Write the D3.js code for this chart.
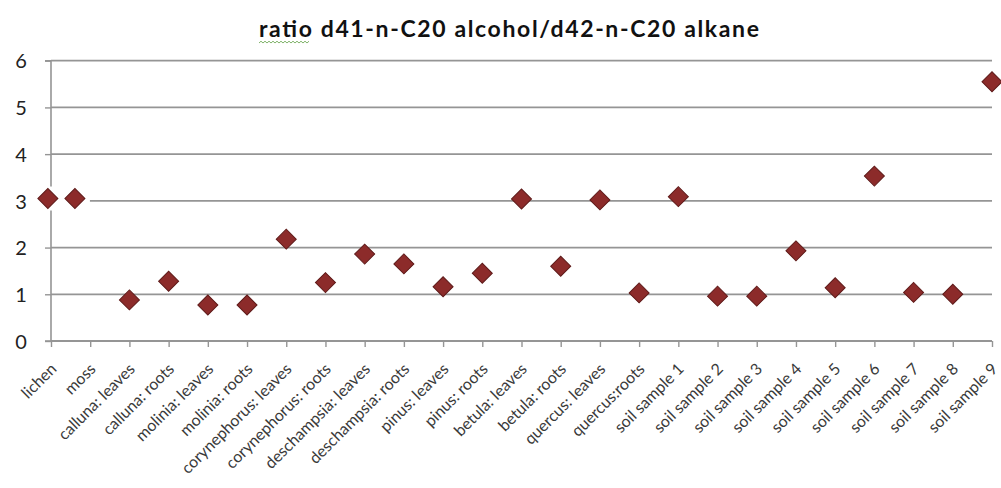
<!DOCTYPE html>
<html><head><meta charset="utf-8">
<script src="https://cdn.jsdelivr.net/npm/d3@7"></script>
<style>
html,body{margin:0;padding:0;background:#fff;}
svg{display:block;}
</style>
</head><body>
<svg id="chart" width="1001" height="488"></svg>
<script>
const titleText = "ratio d41-n-C20 alcohol/d42-n-C20 alkane";
const categories = ["lichen","moss","calluna: leaves","calluna: roots","molinia: leaves","molinia: roots",
  "corynephorus: leaves","corynephorus: roots","deschampsia: leaves","deschampsia: roots","pinus: leaves",
  "pinus: roots","betula: leaves","betula: roots","quercus: leaves","quercus:roots","soil sample 1",
  "soil sample 2","soil sample 3","soil sample 4","soil sample 5","soil sample 6","soil sample 7",
  "soil sample 8","soil sample 9"];
// position of each marker along the category axis (category index units)
const xPositions = [-0.08,0.61,2,3,4,5,6,7,8,9,10,11,12,13,14,15,16,17,18,19,20,21,22,23,24];
const ratios = [3.05,3.05,0.88,1.28,0.77,0.77,2.18,1.25,1.86,1.65,1.16,1.45,3.04,1.60,3.02,1.03,3.09,
  0.96,0.96,1.93,1.14,3.53,1.04,1.00,5.55];
const yTicks = [0,1,2,3,4,5,6];

const svg = d3.select("#chart");
const L = 51, R = 992, T = 60.7, B = 341;
const x = d3.scaleLinear().domain([0, categories.length-1]).range([L, R]);
const y = d3.scaleLinear().domain([0, 6]).range([B, T]);
const font = "Lato, 'Open Sans', sans-serif";

// title
svg.append("text").attr("x", 509).attr("y", 37).attr("text-anchor","middle")
  .attr("font-family", font).attr("font-weight","bold").attr("font-size", 23).attr("fill","#111")
  .attr("textLength", 500).attr("lengthAdjust","spacing")
  .text(titleText);
// spell-check squiggle under "ratio"
(function(){
  let d = "M259,43"; let up = true;
  for (let xx = 261; xx <= 309; xx += 2) { d += "L" + xx + "," + (up ? 41.2 : 43); up = !up; }
  svg.append("path").attr("d", d).attr("fill","none").attr("stroke","#7fb36a").attr("stroke-width",1);
})();

// gridlines
svg.append("g").selectAll("line").data(yTicks.filter(d=>d>0)).join("line")
  .attr("x1", L).attr("x2", R).attr("y1", d=>y(d)).attr("y2", d=>y(d))
  .attr("stroke","#959595").attr("stroke-width",1.8);

// y axis
const ya = svg.append("g").attr("transform", `translate(${L},0)`)
  .call(d3.axisLeft(y).tickValues(yTicks).tickSize(6).tickPadding(18).tickFormat(d3.format("d")));
ya.select(".domain").attr("stroke","#959595").attr("stroke-width",1.6).attr("d", `M-6,${T}H0V${B}H-6`);
ya.selectAll(".tick line").attr("stroke","#959595").attr("stroke-width",1.4);
ya.selectAll(".tick text").attr("font-family", font).attr("font-size", 20).attr("fill","#222")
  .attr("text-anchor","middle").attr("x",-30).attr("dy","0.36em");

// x axis
const xa = svg.append("g").attr("transform", `translate(0,${B})`)
  .call(d3.axisBottom(x).tickValues(d3.range(categories.length)).tickSize(6).tickFormat(i=>categories[i]));
xa.select(".domain").attr("stroke","#959595").attr("stroke-width",1.8).attr("d", `M${L},0H${R}`);
xa.selectAll(".tick line").attr("stroke","#959595").attr("stroke-width",1.4);
xa.selectAll(".tick text").attr("font-family", font).attr("font-size", 16).attr("fill","#3a3a3a")
  .attr("text-anchor","end").attr("dy",null).attr("y",null)
  .attr("transform","translate(6,29) rotate(-45)");

// white patch behind the first two markers (as in the original picture)
svg.append("rect")
  .attr("x", x(xPositions[0]) - 11).attr("y", y(ratios[0]) - 12)
  .attr("width", x(xPositions[1]) - x(xPositions[0]) + 26).attr("height", 24).attr("fill","#fff");

// markers
svg.append("g").selectAll("path").data(ratios).join("path")
  .attr("transform",(d,i)=>`translate(${x(xPositions[i])},${y(d)}) rotate(45)`)
  .attr("d", d3.symbol().type(d3.symbolSquare).size(200))
  .attr("fill","#8c2b2a").attr("stroke","#5e1a19").attr("stroke-width",1);
</script>
</body></html>
